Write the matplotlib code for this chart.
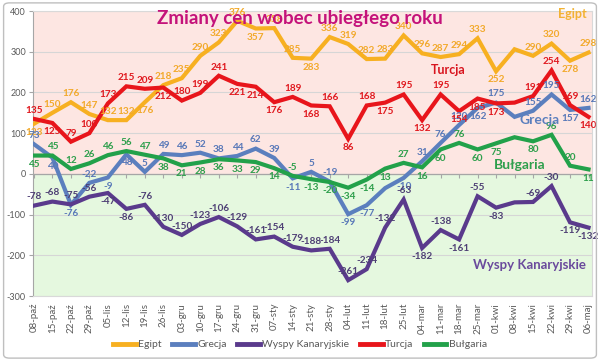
import matplotlib
matplotlib.use("Agg")
import matplotlib.pyplot as plt
from matplotlib.patches import FancyBboxPatch

plt.rcParams['font.family'] = ['Lato', 'DejaVu Sans']

categories = ["08-paź", "15-paź", "22-paź", "29-paź", "05-lis", "12-lis", "19-lis", "26-lis",
              "03-gru", "10-gru", "17-gru", "24-gru", "31-gru", "07-sty", "14-sty", "21-sty",
              "28-sty", "04-lut", "11-lut", "18-lut", "25-lut", "04-mar", "11-mar", "18-mar",
              "25-mar", "01-kwi", "08-kwi", "15-kwi", "22-kwi", "29-kwi", "06-maj"]

egipt = [123, 150, 176, 147, 132, 132, 176, 218, 235, 290, 323, 376, 357, 358, 285, 283,
         336, 319, 282, 283, 340, 296, 287, 294, 333, 252, 306, 290, 320, 278, 298]
grecja = [73, 40, -76, -22, -9, 48, 5, 49, 46, 52, 38, 44, 62, 39, -11, 5,
          -19, -99, -77, -35, -10, 31, 76, 120, 162, 175, 140, 155, 195, 157, 162]
wyspy = [-78, -68, -75, -56, -47, -86, -76, -130, -150, -123, -106, -129, -161, -154, -179, -188,
         -184, -261, -234, -132, -63, -182, -138, -161, -55, -83, -70, -69, -30, -119, -132]
turcja = [135, 125, 79, 100, 173, 215, 209, 212, 180, 199, 241, 221, 214, 176, 189, 168,
          166, 86, 168, 175, 195, 132, 195, 154, 185, 173, 175, 191, 254, 169, 140]
bulgaria = [45, 45, 12, 26, 46, 56, 47, 38, 21, 28, 36, 33, 29, 14, -5, -13,
            -20, -34, -14, 13, 27, 16, 60, 76, 60, 75, 90, 80, 96, 20, 11]

names = ["Egipt", "Grecja", "Wyspy Kanaryjskie", "Turcja", "Bułgaria"]
y_ticks = [-300, -200, -100, 0, 100, 200, 300, 400]

# styles
line_colors = ["#F7B021", "#5B7FBE", "#5A3A8C", "#E8151B", "#22A14A"]
label_colors = ["#F2A92A", "#5878B8", "#4E3F75", "#E0181E", "#2E9F4C"]
# label placement per point: a = above, b = below, n = none
placement = [
    "baaaaabaaaaabaabaaaaaaaaabnaaba",
    "abbabbaaaaaaaabaabbnbaaabanaaba",
    "aaaabbaaaaaaaaaaaaaaabababnaabb",
    "abaaaaabaaabbbabababababbbnaaab",
    "baaaaaabbbbbbbabbbbbabbabbnbaab",
]

series = [egipt, grecja, wyspy, turcja, bulgaria]
draw_order = [4, 2, 1, 0, 3]

fig = plt.figure(figsize=(6.0, 3.61), dpi=100)

ax = fig.add_axes([0.055, 0.180, 0.932, 0.7895])
ax.set_xlim(-0.05, 30.2)
ax.set_ylim(-300, 400)
ax.axhspan(0, 400, color="#FDE6E2", zorder=0, lw=0)
ax.axhspan(-300, 0, color="#E5F8DF", zorder=0, lw=0)
for yv in y_ticks:
    ax.axhline(yv, color="#D6D6D6", lw=0.8, zorder=1)
ax.axhline(0, color="#A6A6A6", lw=0.9, zorder=1)

x = list(range(len(categories)))
for k in draw_order:
    ax.plot(x, series[k], color=line_colors[k], lw=3.0, zorder=3 + k * 0.1,
            solid_joinstyle="miter", label=names[k])
for k in range(5):
    for i, v in enumerate(series[k]):
        p = placement[k][i]
        if p == "n":
            continue
        dy = 3 if p == "a" else -3
        ax.annotate(str(v), (i, v), xytext=(0, dy), textcoords="offset points",
                    ha="center", va="bottom" if p == "a" else "top",
                    fontsize=7.2, fontweight="bold", color=label_colors[k], zorder=6)

# series name annotations
ax.text(29.9, 393, "Egipt", color="#F2B233", fontsize=9, fontweight="bold", ha="right", va="center", zorder=7)
ax.text(22.4, 255, "Turcja", color="#D8141E", fontsize=9, fontweight="bold", ha="center", va="center", zorder=7)
ax.text(27.35, 133, "Grecja", color="#5B7FBE", fontsize=10, fontweight="bold", ha="center", va="center", zorder=7)
ax.text(26.3, 22, "Bułgaria", color="#2E9F4C", fontsize=10, fontweight="bold", ha="center", va="center", zorder=7)
ax.text(26.8, -224, "Wyspy Kanaryjskie", color="#6A4A9C", fontsize=9.5, fontweight="bold",
        ha="center", va="center", zorder=7)

ax.set_yticks(y_ticks)
ax.set_yticklabels([str(t) for t in y_ticks], fontsize=6.5, color="#595959")
ax.set_xticks(x)
ax.set_xticklabels(categories, rotation=90, fontsize=7, color="#595959")
ax.tick_params(axis="x", length=0, pad=5)
ax.tick_params(axis="y", length=3, color="#A6A6A6", pad=2)
for s in ["top", "right", "bottom"]:
    ax.spines[s].set_color("#D9D9D9")
    ax.spines[s].set_linewidth(0.8)
ax.spines["left"].set_color("#A6A6A6")

sec = ax.secondary_xaxis(300 / 700)
sec.set_xticks(x)
sec.set_xticklabels([])
sec.tick_params(length=3, color="#A6A6A6", direction="out")
sec.spines["bottom"].set_visible(False)

fig.text(0.5, 0.950, "Zmiany cen wobec ubiegłego roku", ha="center", va="center",
         fontsize=13.5, fontweight="bold", color="#C4127A")

leg_handles = [plt.Line2D([], [], color=line_colors[k], lw=3.5) for k in range(5)]
fig.legend(leg_handles, names, loc="center", bbox_to_anchor=(0.5, 0.045), ncol=5,
           frameon=False, fontsize=7.5, handlelength=2.2, handletextpad=0.2, columnspacing=1.0,
           labelcolor="#595959")

border = FancyBboxPatch((0.006, 0.008), 0.988, 0.984, boxstyle="round,pad=0,rounding_size=0.01",
                        transform=fig.transFigure, facecolor="none", edgecolor="#BFBFBF",
                        linewidth=1.0, zorder=10)
fig.patches.append(border)

fig.savefig("out.png", dpi=100)
